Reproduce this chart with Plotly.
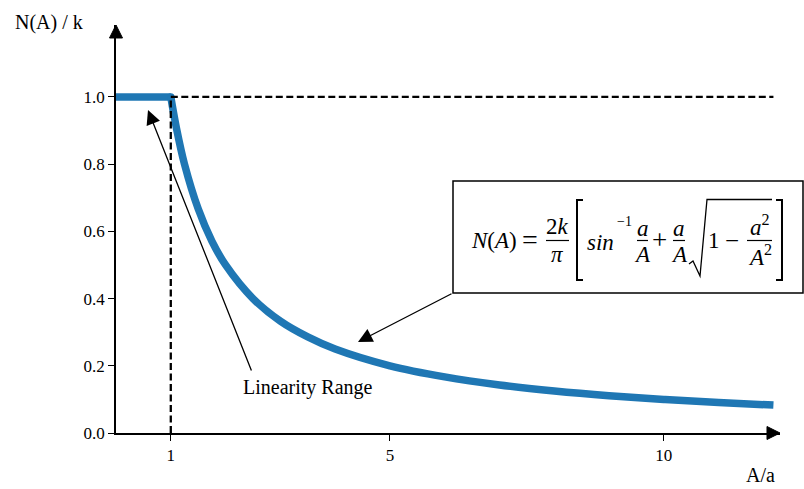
import plotly.graph_objects as go

# Describing-function curve N(A)/k versus amplitude ratio A/a
flat_x = [0, 1]
flat_y = [1.0, 1.0]
curve_x = [1, 1.1, 1.25, 1.5, 1.75, 2, 2.5, 3, 3.5, 4, 5, 6, 7, 8, 9, 10, 11, 12]
curve_y = [1.0, 0.91, 0.80, 0.667, 0.571, 0.50, 0.40, 0.333, 0.286, 0.25,
           0.20, 0.167, 0.143, 0.125, 0.111, 0.10, 0.091, 0.083]

# Reference guides: saturation level and the end of the linear range
hguide_x = [1, 12]
hguide_y = [1.0, 1.0]
vguide_x = [1, 1]
vguide_y = [0.0, 1.0]

x_ticks = [1, 5, 10]
x_ticklabels = ["1", "5", "10"]
y_ticks = [0.0, 0.2, 0.4, 0.6, 0.8, 1.0]
y_ticklabels = ["0.0", "0.2", "0.4", "0.6", "0.8", "1.0"]

W, H = 804, 489
L, R, T, B = 116, 780, 25, 433
SERIF = "Liberation Serif, Times New Roman, serif"
BLUE = "#1f77b4"


def P(px, py):
    """Pixel position -> paper coordinates."""
    return (px - L) / (R - L), (B - py) / (B - T)


def path(points, close=False):
    s = ""
    for i, (px, py) in enumerate(points):
        x, y = P(px, py)
        s += ("M" if i == 0 else "L") + f"{x:.5f},{y:.5f} "
    return s + ("Z" if close else "")


fig = go.Figure()
fig.add_trace(go.Scatter(x=flat_x, y=flat_y, mode="lines",
                         line=dict(color=BLUE, width=7.5), hoverinfo="skip"))
fig.add_trace(go.Scatter(x=curve_x, y=curve_y, mode="lines",
                         line=dict(color=BLUE, width=7.5, shape="spline"),
                         hoverinfo="skip"))
fig.add_trace(go.Scatter(x=[flat_x[-1]], y=[flat_y[-1]], mode="markers",
                         marker=dict(color=BLUE, size=7.5), hoverinfo="skip"))
for gx, gy in ((hguide_x, hguide_y), (vguide_x, vguide_y)):
    fig.add_trace(go.Scatter(x=gx, y=gy, mode="lines",
                             line=dict(color="black", width=2.3, dash="7px,3.5px"),
                             hoverinfo="skip"))

shapes = []
# axis arrowheads
shapes.append(dict(type="path", xref="paper", yref="paper",
                   path=path([(767, 426.5), (780, 433), (767, 439.5)], True),
                   fillcolor="black", line=dict(color="black", width=1)))
shapes.append(dict(type="path", xref="paper", yref="paper",
                   path=path([(109.5, 38), (116, 25), (122.5, 38)], True),
                   fillcolor="black", line=dict(color="black", width=1)))
# formula box
bx0, by0 = P(453, 181)
bx1, by1 = P(803, 293)
shapes.append(dict(type="rect", xref="paper", yref="paper",
                   x0=bx0, y0=by1, x1=bx1, y1=by0, fillcolor="white",
                   line=dict(color="black", width=1.5)))

def bar(x0, x1, y=240.5):
    shapes.append(dict(type="path", xref="paper", yref="paper",
                       path=path([(x0, y), (x1, y)]),
                       line=dict(color="black", width=1.2)))

bar(546, 569)
bar(637, 648)
bar(673, 685)
bar(747, 772)
# brackets and radical
shapes.append(dict(type="path", xref="paper", yref="paper",
                   path=path([(583, 200), (577, 200), (577, 280), (583, 280)]),
                   line=dict(color="black", width=2)))
shapes.append(dict(type="path", xref="paper", yref="paper",
                   path=path([(776, 200), (782, 200), (782, 280), (776, 280)]),
                   line=dict(color="black", width=2)))
shapes.append(dict(type="path", xref="paper", yref="paper",
                   path=path([(689, 264), (693, 261), (700, 276), (707, 199.5), (772, 199.5)]),
                   line=dict(color="black", width=1.3)))

annotations = []

def text(t, px, py, size=22, xanchor="center"):
    x, y = P(px, py)
    annotations.append(dict(xref="paper", yref="paper", x=x, y=y, text=t,
                            showarrow=False, xanchor=xanchor, yanchor="middle",
                            font=dict(family=SERIF, size=size, color="black")))

# formula pieces
text("<i>N</i>(<i>A</i>)", 494, 240, size=23)
text("=", 530, 239, size=28)
text("2<i>k</i>", 557, 226, size=23)
text("<i>π</i>", 557, 254, size=23)
text("<i>sin</i>", 600, 242, size=23)
text("−1", 624, 222, size=14)
text("<i>a</i>", 642.5, 228, size=23)
text("<i>A</i>", 642.5, 254, size=23)
text("+", 659.5, 240, size=27)
text("<i>a</i>", 679, 228, size=23)
text("<i>A</i>", 679, 254, size=23)
text("1", 714, 240, size=23)
text("−", 732, 240, size=25)
text("<i>a</i><sup>2</sup>", 759.5, 225, size=23)
text("<i>A</i><sup>2</sup>", 759.5, 255, size=23)

# labels
text("Linearity Range", 308, 387, size=20)
text("N(A) / k", 49, 22, size=20)
text("A/a", 760, 475, size=20)

# pointer arrows
for (hx, hy), (tx, ty) in (((148, 110), (252, 372)), ((358, 342), (453, 293))):
    x, y = P(hx, hy)
    annotations.append(dict(xref="paper", yref="paper", x=x, y=y, text="",
                            showarrow=True, arrowhead=2, arrowsize=2.2,
                            arrowwidth=1.3, arrowcolor="black",
                            ax=tx - hx, ay=ty - hy))

tick_font = dict(family=SERIF, size=17, color="black")
axis_common = dict(showgrid=False, zeroline=False, showline=True,
                   linecolor="black", linewidth=1.5, ticks="outside",
                   ticklen=6, tickwidth=1.2, tickcolor="black",
                   tickfont=tick_font, fixedrange=True)

fig.update_layout(
    width=W, height=H,
    margin=dict(l=L, r=W - R, t=T, b=H - B, pad=0),
    paper_bgcolor="white", plot_bgcolor="white",
    font=dict(family=SERIF, size=17, color="black"),
    showlegend=False,
    xaxis=dict(range=[0, 12.12], tickvals=x_ticks, ticktext=x_ticklabels,
               **axis_common),
    yaxis=dict(range=[0, 1.214], tickvals=y_ticks, ticktext=y_ticklabels,
               **axis_common),
    shapes=shapes,
    annotations=annotations,
)

fig.write_html("out.html")
